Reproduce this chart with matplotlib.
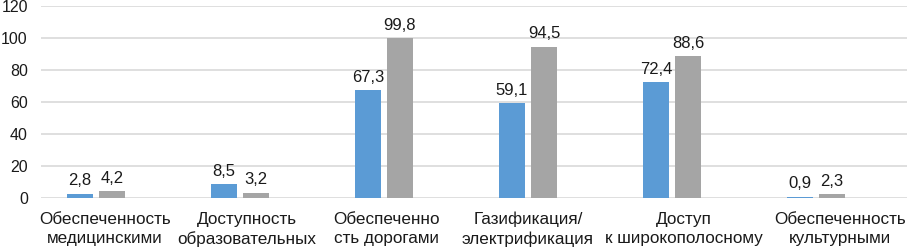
import numpy as np
import matplotlib.pyplot as plt
from matplotlib.transforms import ScaledTranslation

# Data
categories = [
    "Обеспеченность\nмедицинскими",
    "Доступность\nобразовательных",
    "Обеспеченно\nсть дорогами",
    "Газификация/\nэлектрификация",
    "Доступ\nк широкополосному",
    "Обеспеченность\nкультурными",
]
series_blue = [2.8, 8.5, 67.3, 59.1, 72.4, 0.9]
series_gray = [4.2, 3.2, 99.8, 94.5, 88.6, 2.3]
y_ticks = [0, 20, 40, 60, 80, 100, 120]

# horizontal nudges of the category labels (pixels), as in the source layout
label_shift_px = [9, 7, 2, 0, 12, 24]

plt.rcParams['font.family'] = ['Liberation Sans', 'DejaVu Sans']

fig = plt.figure(figsize=(9.07, 2.52), dpi=100)
ax = fig.add_axes([41 / 907, 54 / 252, 866 / 907, 192 / 252])

x = np.arange(len(categories))
width = 0.174
offset = 0.111

bars1 = ax.bar(x - offset, series_blue, width, color='#5b9bd5', zorder=3)
bars2 = ax.bar(x + offset, series_gray, width, color='#a5a5a5', zorder=3)

def fmt(vals):
    return [f"{v:.1f}".replace('.', ',') for v in vals]

ax.bar_label(bars1, labels=fmt(series_blue), padding=4, fontsize=12, color='#1a1a1a')
ax.bar_label(bars2, labels=fmt(series_gray), padding=4, fontsize=12, color='#1a1a1a')

ax.set_xlim(-0.382, 5.632)
ax.set_ylim(0, 120)
ax.set_yticks(y_ticks)
ax.tick_params(axis='y', length=0, pad=9.5, labelsize=11.5, labelcolor='#1a1a1a')
ax.set_xticks(x)
ax.set_xticklabels(categories, fontsize=12.3, color='#1a1a1a', linespacing=1.35)
ax.tick_params(axis='x', length=0, pad=10)

for lbl, dx in zip(ax.get_xticklabels(), label_shift_px):
    lbl.set_transform(lbl.get_transform() + ScaledTranslation(dx / 100, 0, fig.dpi_scale_trans))

ax.grid(axis='y', color='#d9d9d9', linewidth=1.2, zorder=0)
for s in ax.spines.values():
    s.set_visible(False)

fig.savefig('out.png', dpi=100)
